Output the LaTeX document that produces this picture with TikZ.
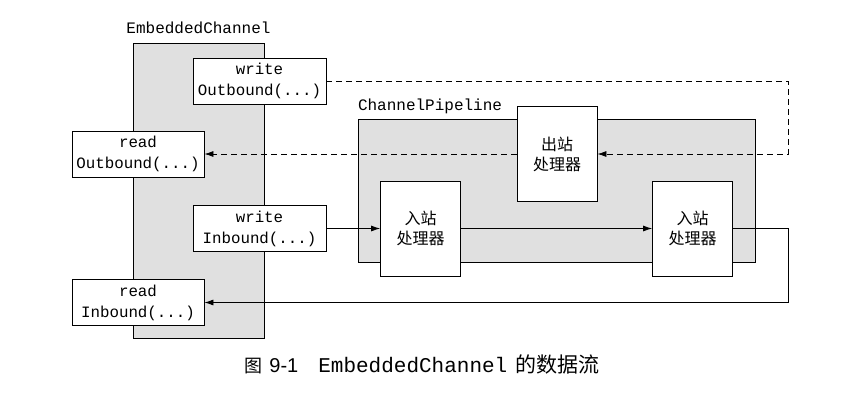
\documentclass[tikz,border=0pt]{standalone}
\usepackage{fontspec}
\setmonofont{Liberation Mono}
\newfontfamily\cjk{Noto Sans CJK SC}
\newfontfamily\capsans{Liberation Sans}
\usetikzlibrary{arrows.meta}
\tikzset{>={Latex[length=9pt,width=6pt]}}
\colorlet{mygray}{black!12}
\tikzset{
  container/.style={draw,fill=mygray,inner sep=0pt},
  callbox/.style={draw,fill=white,align=center,inner sep=0pt,
    minimum width=133,minimum height=46,
    font=\ttfamily\fontsize{15.8}{21}\selectfont},
  handler/.style={draw,fill=white,align=center,inner sep=0pt,
    minimum width=80,minimum height=95,
    font=\cjk\fontsize{16}{20}\selectfont},
  tlabel/.style={inner sep=0pt,font=\ttfamily\fontsize{16}{16}\selectfont},
  flowdash/.style={dash pattern=on 6pt off 4pt}
}

\begin{document}
\begin{tikzpicture}[x=1pt,y=-1pt,line width=0.8pt]
        \useasboundingbox (0,0) rectangle (865,405);

        % CONTAINERS
        \node[container,minimum width=131,minimum height=295] (ec) at (198.5,190.5) {};
        \node[container,minimum width=397,minimum height=143] (cp) at (556.5,190.5) {};
        \node[tlabel,anchor=base] (ecname) at ([yshift=9.5pt]ec.north) {EmbeddedChannel};
        \node[tlabel,anchor=base west] (cpname) at ([yshift=8pt]cp.north west) {ChannelPipeline};

        % CALLS
        \node[callbox] (wo) at (259.5,81) {write\\Outbound(...)};
        \node[callbox,minimum width=132] (ro) at (138,154) {read\\Outbound(...)};
        \node[callbox] (wi) at (259.5,228.5) {write\\Inbound(...)};
        \node[callbox,minimum width=132] (ri) at (138,302.5) {read\\Inbound(...)};

        % HANDLERS
        \node[handler] (oh) at (557,154) {出站\\处理器};
        \node[handler] (ih1) at (420.5,228.5) {入站\\处理器};
        \node[handler] (ih2) at (692.5,228.5) {入站\\处理器};

        % OUTBOUND FLOW
        \coordinate (oturn) at (788,154);
        \draw[flowdash,->] (wo.east) -| (oturn) -- (oh.east);
        \draw[flowdash,->] (oh.west) -- (ro.east);

        % INBOUND FLOW
        \coordinate (iturn) at (788,302.5);
        \draw[->] (wi.east) -- (ih1.west);
        \draw[->] (ih1.east) -- (ih2.west);
        \draw[->] (ih2.east) -| (iturn) -- (ri.east);

        % CAPTION
        \node[anchor=west,inner sep=0pt] (caption) at (244,365)
          {{\cjk\fontsize{18}{18}\selectfont 图}\hspace{7pt}{\capsans\fontsize{20}{20}\selectfont 9-1}\hspace{20pt}{\ttfamily\fontsize{21}{21}\selectfont EmbeddedChannel}\hspace{8pt}{\cjk\fontsize{21}{21}\selectfont 的数据流}};
\end{tikzpicture}
\end{document}
